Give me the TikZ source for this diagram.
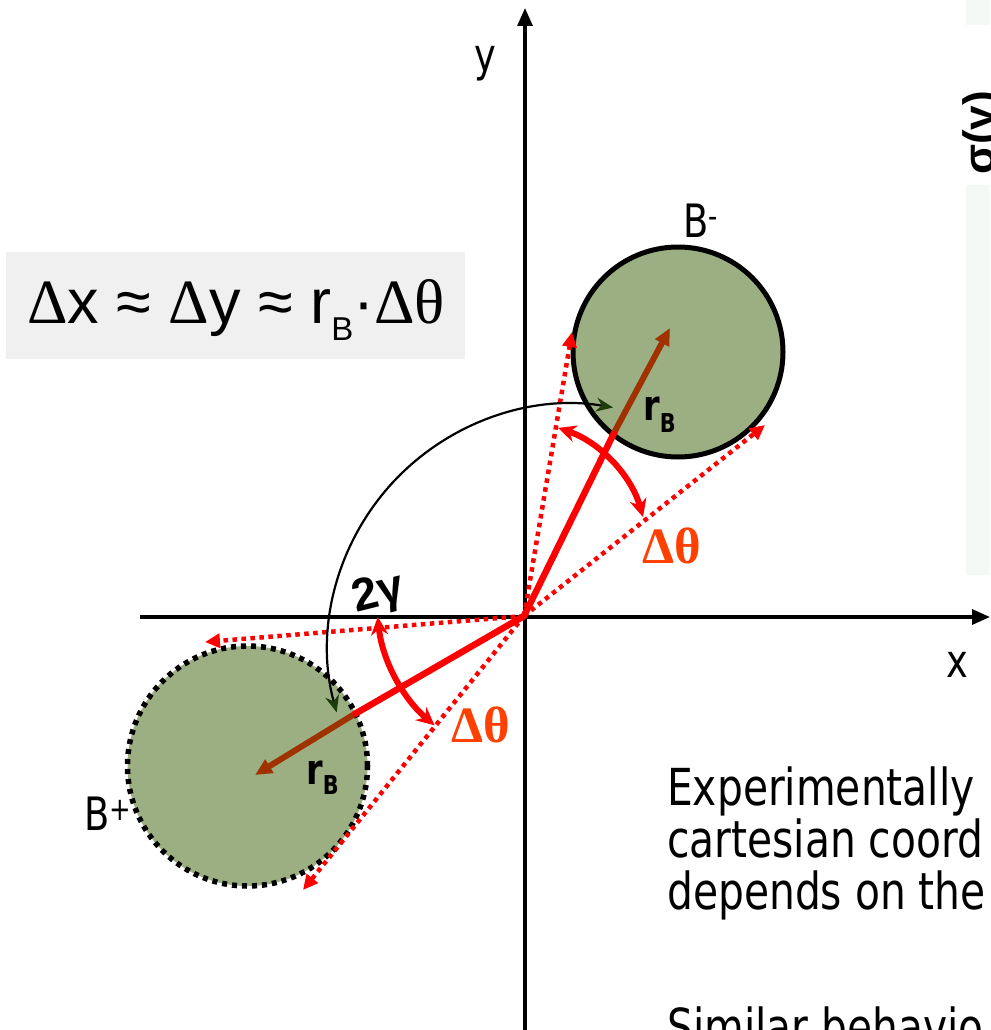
\documentclass[tikz,border=0pt]{standalone}
\usepackage{fontspec}
\setmainfont{Liberation Sans}
\newfontfamily\tah[FakeStretch=0.8]{DejaVu Sans}
\newfontfamily\serf{Liberation Serif}
\usetikzlibrary{arrows.meta}
\definecolor{circfill}{RGB}{156,175,130}
\definecolor{brn}{RGB}{160,50,0}
\definecolor{dth}{RGB}{255,64,0}
\definecolor{eqbg}{RGB}{240,240,240}
\definecolor{pnl}{RGB}{245,249,245}
\definecolor{dgreen}{RGB}{30,60,10}
\definecolor{rred}{RGB}{255,0,0}
\begin{document}
\begin{tikzpicture}[x=1pt,y=-1pt,
  axisline/.style={line width=3.2pt,-{Triangle[length=18pt,width=15pt]}},
  redline/.style={rred,line width=6.5pt},
  brnarrow/.style={brn,line width=6pt,-{Triangle[length=17pt,width=15pt]}},
  rdot/.style={rred,line width=4.5pt,dash pattern=on 4.5pt off 4.5pt,-{Triangle[length=15pt,width=14pt,fill=rred]}},
  redarc/.style={rred,line width=6pt,{Stealth[length=18pt,width=17pt]}-{Stealth[length=18pt,width=17pt]}},
  garc/.style={black,line width=2.2pt,{Stealth[length=17pt,width=14pt,color=dgreen]}-{Stealth[length=17pt,width=14pt,color=dgreen]}},
  body/.style={inner sep=0,anchor=base west,font=\tah\fontsize{51}{52}\selectfont},
  lab/.style={inner sep=0,anchor=base west,font=\tah\fontsize{46}{46}\selectfont},
  rb/.style={inner sep=0,anchor=base west,font=\tah\bfseries\fontsize{42}{42}\selectfont},
  dtl/.style={inner sep=0,anchor=base west,text=dth,font=\serf\bfseries\fontsize{51}{51}\selectfont}
]
\useasboundingbox (0,0) rectangle (990,1030);
\clip (0,0) rectangle (990,1030);

% faint panel on the right
\fill[pnl] (966,0) rectangle (990,25);
\fill[pnl] (966,185) rectangle (990,575);

% equation box
\node[fill=eqbg,minimum width=459pt,minimum height=107pt,anchor=north west,inner sep=0] (eqbox) at (6,252) {};
\node[inner sep=0,anchor=base west,font=\fontsize{63}{63}\selectfont] (eq) at (27,323)
  {{\serf Δ}x ≈ {\serf Δ}y ≈ r\raisebox{-17pt}{\fontsize{33}{33}\selectfont B}·{\serf Δθ}};

% circles
\fill[circfill] (678,352) circle[radius=105pt];
\draw[line width=5pt] (678,352) circle[radius=105pt];
\fill[circfill] (247.5,766) circle[radius=120pt];
\draw[line width=5.5pt,dash pattern=on 5pt off 5pt] (247.5,766) circle[radius=120pt];

% coordinates
\coordinate (O) at (524,616);
\coordinate (E1) at (615,431);
\coordinate (T1) at (670,328);
\coordinate (E2) at (353,715);
\coordinate (T2) at (255,775);
\coordinate (Ta) at (572,332);
\coordinate (Tb) at (765,425);
\coordinate (Tc) at (205,642);
\coordinate (Td) at (303,890);
\coordinate (xs) at (140,617);
\coordinate (xe) at (990,617);
\coordinate (ys) at (525,1030);
\coordinate (ye) at (525,8);

% axes
\draw[axisline] (xs) -- (xe);
\draw[axisline] (ys) -- (ye);
\node[lab,anchor=base] (ylab) at (485,72) {y};
\node[lab,anchor=base] (xlab) at (957,677) {x};

% tangents
\draw[rdot] (O) -- (Ta);
\draw[rdot] (O) -- (Tb);
\draw[rdot] (O) -- (Tc);
\draw[rdot] (O) -- (Td);

% radius lines
\draw[redline,line join=round] (E2) -- (O) -- (E1);
\draw[brnarrow] (E1) -- (T1);
\draw[brnarrow] (E2) -- (T2);

% angle arcs
\draw[redarc] ([shift={(516,553)}]71.4:132pt) arc[start angle=71.4,end angle=15.8,radius=132pt];
\draw[redarc] ([shift={(540,601)}]185.6:163pt) arc[start angle=185.6,end angle=229.7,radius=163pt];
\draw[garc] ([shift={(572,648)}]195.3:244pt) arc[start angle=195.3,end angle=80.3,radius=244pt];

% labels
\node[lab] (bm) at (683,237) {B\textsuperscript{-}};
\node[lab] (bp) at (84,830) {B\textsuperscript{+}};
\node[rb] (rb1) at (643,420) {r\raisebox{-12pt}{\fontsize{26}{26}\selectfont B}};
\node[rb] (rb2) at (306,784) {r\raisebox{-10pt}{\fontsize{26}{26}\selectfont B}};
\node[dtl] (dt1) at (642,563) {Δθ};
\node[dtl] (dt2) at (451,742) {Δθ};
\node[inner sep=0,rotate=14,font=\bfseries\fontsize{46}{46}\selectfont] (g2) at (379,595) {2γ};

% rotated label on right
\node[inner sep=0,rotate=90,anchor=base west,font=\bfseries\fontsize{44}{44}\selectfont] (sig) at (994,175) {σ(γ)};

% body text
\node[body] (t1) at (667,805) {Experimentally};
\node[body] (t2) at (667,857) {cartesian coord};
\node[body] (t3) at (667,909) {depends on the};
\node[body] (t4) at (667,1045) {Similar behavio};
\end{tikzpicture}
\end{document}
